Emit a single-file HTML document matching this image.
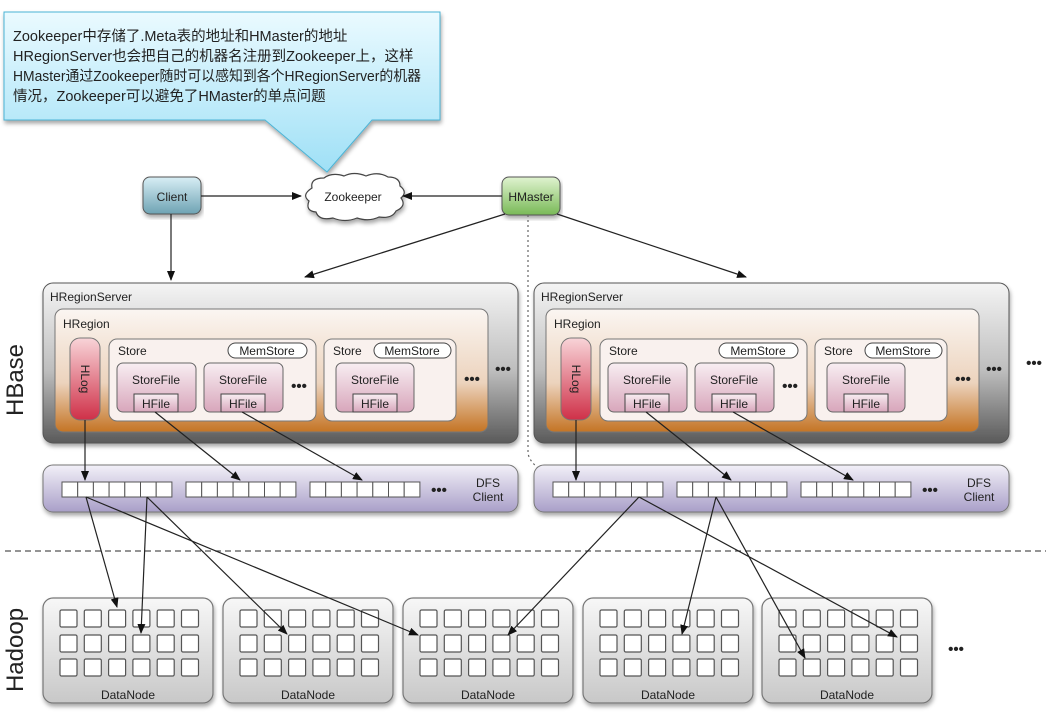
<!DOCTYPE html>
<html><head><meta charset="utf-8"><style>
html,body{margin:0;padding:0;background:#fff;}
svg{display:block;}
text{font-family:"Liberation Sans","Noto Sans CJK SC",sans-serif;fill:#222;}
.d{font-size:15px;font-weight:bold;}
</style></head><body>
<svg width="1051" height="712" viewBox="0 0 1051 712" xmlns="http://www.w3.org/2000/svg">
<defs>
<linearGradient id="gSrv" x1="0" y1="0" x2="0" y2="1"><stop offset="0" stop-color="#f4f4f4"/><stop offset="0.55" stop-color="#bdbdbd"/><stop offset="1" stop-color="#5a5a5a"/></linearGradient>
<linearGradient id="gReg" x1="0" y1="0" x2="0" y2="1"><stop offset="0" stop-color="#fbf6f2"/><stop offset="0.6" stop-color="#ecd3bd"/><stop offset="1" stop-color="#c47424"/></linearGradient>
<linearGradient id="gLog" x1="0" y1="0" x2="0" y2="1"><stop offset="0" stop-color="#f8d4d8"/><stop offset="1" stop-color="#cf3048"/></linearGradient>
<linearGradient id="gSF" x1="0" y1="0" x2="0" y2="1"><stop offset="0" stop-color="#f8eef2"/><stop offset="1" stop-color="#d8a6bb"/></linearGradient>
<linearGradient id="gDFS" x1="0" y1="0" x2="0" y2="1"><stop offset="0" stop-color="#f2f0f8"/><stop offset="1" stop-color="#a99fc8"/></linearGradient>
<linearGradient id="gDN" x1="0" y1="0" x2="0" y2="1"><stop offset="0" stop-color="#f7f7f7"/><stop offset="1" stop-color="#c8c8c8"/></linearGradient>
<linearGradient id="gCl" x1="0" y1="0" x2="0" y2="1"><stop offset="0" stop-color="#d8eef5"/><stop offset="1" stop-color="#6ea3b3"/></linearGradient>
<linearGradient id="gHM" x1="0" y1="0" x2="0" y2="1"><stop offset="0" stop-color="#e0f3d0"/><stop offset="1" stop-color="#79b957"/></linearGradient>
<linearGradient id="gCall" x1="0" y1="0" x2="0" y2="1"><stop offset="0" stop-color="#eafaff"/><stop offset="1" stop-color="#9fe0f6"/></linearGradient>
<marker id="ar" markerWidth="10" markerHeight="8" refX="9" refY="4" orient="auto" markerUnits="userSpaceOnUse"><path d="M0,0 L10,4 L0,8 z" fill="#111"/></marker>
<g id="sq7" fill="#fff" stroke="#555" stroke-width="1">
<rect x="0" y="0" width="15.7" height="15"/><rect x="15.7" y="0" width="15.7" height="15"/><rect x="31.4" y="0" width="15.7" height="15"/><rect x="47.1" y="0" width="15.7" height="15"/><rect x="62.8" y="0" width="15.7" height="15"/><rect x="78.5" y="0" width="15.7" height="15"/><rect x="94.2" y="0" width="15.7" height="15"/>
</g>
<g id="row6" fill="#fff" stroke="#555" stroke-width="1.2">
<rect x="0" y="0" width="17" height="17" rx="1.5"/><rect x="24.3" y="0" width="17" height="17" rx="1.5"/><rect x="48.6" y="0" width="17" height="17" rx="1.5"/><rect x="72.9" y="0" width="17" height="17" rx="1.5"/><rect x="97.2" y="0" width="17" height="17" rx="1.5"/><rect x="121.5" y="0" width="17" height="17" rx="1.5"/>
</g>
<g id="dn">
<rect x="0" y="0" width="170" height="105" rx="10" fill="url(#gDN)" stroke="#777" stroke-width="1.2"/>
<use href="#row6" x="17" y="12"/><use href="#row6" x="17" y="37"/><use href="#row6" x="17" y="61"/>
</g>
<filter id="sh" x="-5%" y="-5%" width="110%" height="120%"><feDropShadow dx="1" dy="3" stdDeviation="2" flood-opacity="0.35"/></filter>
</defs>

<path d="M4,12 H440 V120 H372 L327,172 L265,120 H4 Z" fill="url(#gCall)" stroke="#4cb4d6" stroke-width="1" filter="url(#sh)"/>
<text x="13" y="41" font-size="14.5">Zookeeper中存储了.Meta表的地址和HMaster的地址</text>
<text x="13" y="61" font-size="14.5">HRegionServer也会把自己的机器名注册到Zookeeper上，这样</text>
<text x="13" y="81" font-size="14.5" textLength="408" lengthAdjust="spacingAndGlyphs">HMaster通过Zookeeper随时可以感知到各个HRegionServer的机器</text>
<text x="13" y="101" font-size="14.5">情况，Zookeeper可以避免了HMaster的单点问题</text>

<rect x="143" y="177" width="58" height="37" rx="7" fill="url(#gCl)" stroke="#555" filter="url(#sh)"/>
<text x="172" y="201" font-size="12" text-anchor="middle">Client</text>
<rect x="502" y="177" width="58" height="38" rx="7" fill="url(#gHM)" stroke="#555" filter="url(#sh)"/>
<text x="531" y="201" font-size="12" text-anchor="middle">HMaster</text>
<path d="M312,188 q-2,-10 12,-10 q8,-6 20,-2 q10,-5 22,0 q12,-5 22,1 q12,0 12,9 q8,6 1,12 q6,8 -5,13 q-4,8 -17,6 q-10,5 -22,1 q-12,5 -24,0 q-14,3 -17,-6 q-11,-1 -7,-11 q-8,-6 3,-13 z" fill="#fff" stroke="#444" stroke-width="1.2" filter="url(#sh)"/>
<text x="353" y="201" font-size="12" text-anchor="middle">Zookeeper</text>

<g stroke="#222" stroke-width="1.2" fill="none" marker-end="url(#ar)">
<line x1="201" y1="196" x2="301" y2="196"/>
<line x1="502" y1="196" x2="403" y2="196"/>
<line x1="171" y1="214" x2="171" y2="280"/>
<line x1="505" y1="214" x2="305" y2="277"/>
<line x1="557" y1="214" x2="746" y2="277"/>
</g>
<path d="M528,215 V452 Q528,462 546,474" stroke="#666" stroke-width="1.2" fill="none" stroke-dasharray="2,3" marker-end="url(#ar)"/>

<g>
<rect x="43" y="283" width="475" height="160" rx="10" fill="url(#gSrv)" stroke="#555" filter="url(#sh)"/>
<text x="50" y="301" font-size="12">HRegionServer</text>
<rect x="55" y="309" width="433" height="123" rx="8" fill="url(#gReg)" stroke="#777"/>
<text x="63" y="328" font-size="12">HRegion</text>
<rect x="70" y="338" width="30" height="82" rx="10" fill="url(#gLog)" stroke="#777"/>
<text x="0" y="0" font-size="12" text-anchor="middle" transform="translate(81,379) rotate(90)">HLog</text>
<rect x="109" y="339" width="207" height="82" rx="8" fill="#f9f1ee" stroke="#777"/>
<text x="118" y="355" font-size="12">Store</text>
<rect x="228" y="343" width="79" height="15" rx="7.5" fill="#fff" stroke="#444"/>
<text x="267" y="355" font-size="12" text-anchor="middle">MemStore</text>
<rect x="117" y="363" width="79" height="49" rx="6" fill="url(#gSF)" stroke="#666"/>
<text x="156" y="384" font-size="12" text-anchor="middle">StoreFile</text>
<rect x="134" y="394" width="44" height="18" fill="url(#gSF)" stroke="#444"/>
<text x="156" y="408" font-size="12" text-anchor="middle">HFile</text>
<rect x="204" y="363" width="79" height="49" rx="6" fill="url(#gSF)" stroke="#666"/>
<text x="243" y="384" font-size="12" text-anchor="middle">StoreFile</text>
<rect x="221" y="394" width="44" height="18" fill="url(#gSF)" stroke="#444"/>
<text x="243" y="408" font-size="12" text-anchor="middle">HFile</text>
<text x="299" y="391" class="d" text-anchor="middle">•••</text>
<rect x="324" y="339" width="132" height="82" rx="8" fill="#f9f1ee" stroke="#777"/>
<text x="333" y="355" font-size="12">Store</text>
<rect x="374" y="343" width="77" height="15" rx="7.5" fill="#fff" stroke="#444"/>
<text x="412" y="355" font-size="12" text-anchor="middle">MemStore</text>
<rect x="336" y="363" width="78" height="49" rx="6" fill="url(#gSF)" stroke="#666"/>
<text x="375" y="384" font-size="12" text-anchor="middle">StoreFile</text>
<rect x="353" y="394" width="44" height="18" fill="url(#gSF)" stroke="#444"/>
<text x="375" y="408" font-size="12" text-anchor="middle">HFile</text>
<text x="472" y="384" class="d" text-anchor="middle">•••</text>
<text x="503" y="374" class="d" text-anchor="middle">•••</text>
<rect x="43" y="465" width="475" height="47" rx="10" fill="url(#gDFS)" stroke="#777" filter="url(#sh)"/>
<use href="#sq7" x="62" y="482"/><use href="#sq7" x="186" y="482"/><use href="#sq7" x="310" y="482"/>
<text x="439" y="495" class="d" text-anchor="middle">•••</text>
<text x="488" y="487" font-size="12" text-anchor="middle">DFS</text>
<text x="488" y="501" font-size="12" text-anchor="middle">Client</text>
<g stroke="#222" stroke-width="1.2" fill="none" marker-end="url(#ar)">
<line x1="85" y1="420" x2="85" y2="480"/>
<line x1="155" y1="412" x2="240" y2="480"/>
<line x1="242" y1="412" x2="362" y2="480"/>
</g>
</g>
<g transform="translate(491,0)">
<rect x="43" y="283" width="475" height="160" rx="10" fill="url(#gSrv)" stroke="#555" filter="url(#sh)"/>
<text x="50" y="301" font-size="12">HRegionServer</text>
<rect x="55" y="309" width="433" height="123" rx="8" fill="url(#gReg)" stroke="#777"/>
<text x="63" y="328" font-size="12">HRegion</text>
<rect x="70" y="338" width="30" height="82" rx="10" fill="url(#gLog)" stroke="#777"/>
<text x="0" y="0" font-size="12" text-anchor="middle" transform="translate(81,379) rotate(90)">HLog</text>
<rect x="109" y="339" width="207" height="82" rx="8" fill="#f9f1ee" stroke="#777"/>
<text x="118" y="355" font-size="12">Store</text>
<rect x="228" y="343" width="79" height="15" rx="7.5" fill="#fff" stroke="#444"/>
<text x="267" y="355" font-size="12" text-anchor="middle">MemStore</text>
<rect x="117" y="363" width="79" height="49" rx="6" fill="url(#gSF)" stroke="#666"/>
<text x="156" y="384" font-size="12" text-anchor="middle">StoreFile</text>
<rect x="134" y="394" width="44" height="18" fill="url(#gSF)" stroke="#444"/>
<text x="156" y="408" font-size="12" text-anchor="middle">HFile</text>
<rect x="204" y="363" width="79" height="49" rx="6" fill="url(#gSF)" stroke="#666"/>
<text x="243" y="384" font-size="12" text-anchor="middle">StoreFile</text>
<rect x="221" y="394" width="44" height="18" fill="url(#gSF)" stroke="#444"/>
<text x="243" y="408" font-size="12" text-anchor="middle">HFile</text>
<text x="299" y="391" class="d" text-anchor="middle">•••</text>
<rect x="324" y="339" width="132" height="82" rx="8" fill="#f9f1ee" stroke="#777"/>
<text x="333" y="355" font-size="12">Store</text>
<rect x="374" y="343" width="77" height="15" rx="7.5" fill="#fff" stroke="#444"/>
<text x="412" y="355" font-size="12" text-anchor="middle">MemStore</text>
<rect x="336" y="363" width="78" height="49" rx="6" fill="url(#gSF)" stroke="#666"/>
<text x="375" y="384" font-size="12" text-anchor="middle">StoreFile</text>
<rect x="353" y="394" width="44" height="18" fill="url(#gSF)" stroke="#444"/>
<text x="375" y="408" font-size="12" text-anchor="middle">HFile</text>
<text x="472" y="384" class="d" text-anchor="middle">•••</text>
<text x="503" y="374" class="d" text-anchor="middle">•••</text>
<text x="543" y="368" class="d" text-anchor="middle">•••</text>
<rect x="43" y="465" width="475" height="47" rx="10" fill="url(#gDFS)" stroke="#777" filter="url(#sh)"/>
<use href="#sq7" x="62" y="482"/><use href="#sq7" x="186" y="482"/><use href="#sq7" x="310" y="482"/>
<text x="439" y="495" class="d" text-anchor="middle">•••</text>
<text x="488" y="487" font-size="12" text-anchor="middle">DFS</text>
<text x="488" y="501" font-size="12" text-anchor="middle">Client</text>
<g stroke="#222" stroke-width="1.2" fill="none" marker-end="url(#ar)">
<line x1="85" y1="420" x2="85" y2="480"/>
<line x1="155" y1="412" x2="240" y2="480"/>
<line x1="242" y1="412" x2="362" y2="480"/>
</g>
</g>

<line x1="5" y1="551" x2="1046" y2="551" stroke="#555" stroke-width="1.2" stroke-dasharray="6,4"/>

<text x="0" y="0" font-size="24" text-anchor="middle" transform="translate(23,380) rotate(-90)">HBase</text>
<text x="0" y="0" font-size="24" text-anchor="middle" transform="translate(23,650) rotate(-90)">Hadoop</text>

<g filter="url(#sh)">
<use href="#dn" x="43" y="598"/><use href="#dn" x="223" y="598"/><use href="#dn" x="403" y="598"/><use href="#dn" x="583" y="598"/><use href="#dn" x="762" y="598"/>
</g>
<text x="128" y="699" font-size="12" text-anchor="middle">DataNode</text>
<text x="308" y="699" font-size="12" text-anchor="middle">DataNode</text>
<text x="488" y="699" font-size="12" text-anchor="middle">DataNode</text>
<text x="668" y="699" font-size="12" text-anchor="middle">DataNode</text>
<text x="847" y="699" font-size="12" text-anchor="middle">DataNode</text>
<text x="956" y="654" class="d" text-anchor="middle">•••</text>

<g stroke="#222" stroke-width="1.2" fill="none" marker-end="url(#ar)">
<line x1="86" y1="497" x2="117" y2="607"/>
<line x1="86" y1="497" x2="418" y2="635"/>
<line x1="147" y1="497" x2="141" y2="633"/>
<line x1="147" y1="497" x2="287" y2="634"/>
<line x1="639" y1="497" x2="508" y2="635"/>
<line x1="639" y1="497" x2="897" y2="637"/>
<line x1="716" y1="497" x2="682" y2="634"/>
<line x1="716" y1="497" x2="805" y2="658"/>
</g>
</svg>
</body></html>
